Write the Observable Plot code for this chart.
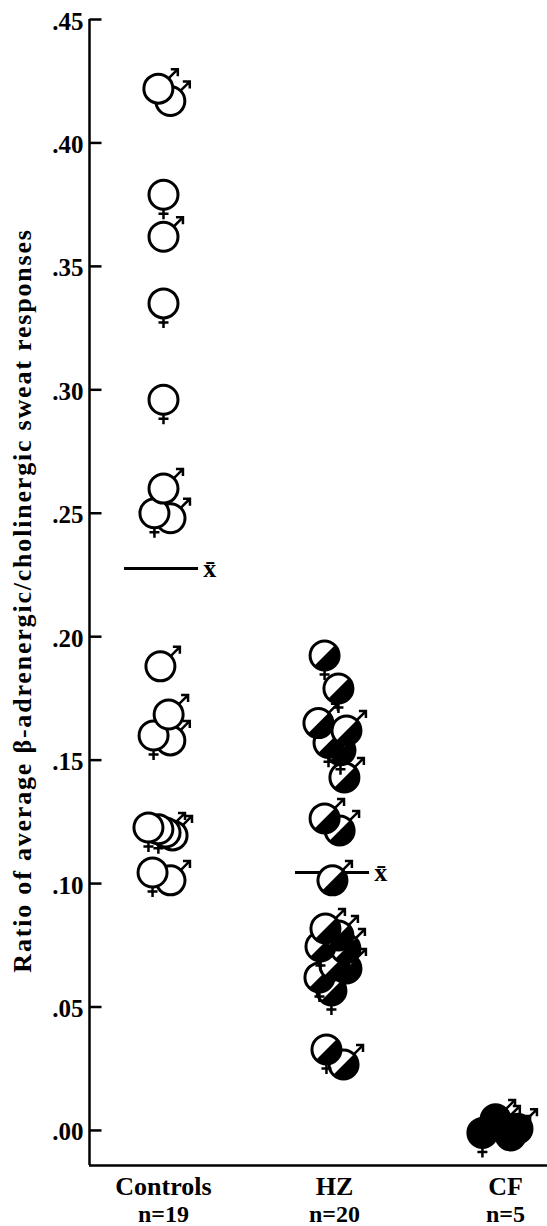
<!DOCTYPE html>
<html><head><meta charset="utf-8">
<script src="https://cdn.jsdelivr.net/npm/d3@7"></script>
<script src="https://cdn.jsdelivr.net/npm/@observablehq/plot@0.6"></script>
<style>body{margin:0;background:#fff}</style>
</head><body><div id="chart"></div>
<script>
// ---- data ----
const groups = ["Controls", "HZ", "CF"];
const groupN = ["n=19", "n=20", "n=5"];
const yTicks = [0, 0.05, 0.10, 0.15, 0.20, 0.25, 0.30, 0.35, 0.40, 0.45];
const yTitle = "Ratio of average \u03b2-adrenergic/cholinergic sweat responses";

const controlValues = [0.422, 0.417, 0.379, 0.362, 0.335, 0.296, 0.260, 0.250, 0.248, 0.188, 0.1685, 0.160, 0.158, 0.1227, 0.122, 0.1207, 0.1195, 0.1045, 0.1013];
const controlJitter = [-0.03, 0.04, 0, 0, 0, 0, 0, -0.053, 0.041, -0.018, 0.03, -0.058, 0.04, -0.088, -0.03, 0.012, 0.053, -0.064, 0.041];
const controlSex = ["M","M","F","M","F","F","M","F","M","M","M","F","M","F","F","M","M","F","M"];

const hzValues = [0.1924, 0.179, 0.165, 0.162, 0.157, 0.154, 0.143, 0.1264, 0.1215, 0.1013, 0.0818, 0.079, 0.0745, 0.0737, 0.0668, 0.0656, 0.062, 0.0567, 0.0328, 0.0267];
const hzJitter = [-0.058, 0.023, -0.094, 0.07, -0.035, 0.035, 0.058, -0.058, 0.03, -0.012, -0.053, 0.023, -0.082, 0.064, 0.0, 0.07, -0.088, -0.018, -0.047, 0.053];
const hzSex = ["F","F","M","M","F","F","M","M","M","M","M","M","F","M","M","M","F","F","F","M"];

const cfValues = [0.0045, 0.002, 0.0007, -0.001, -0.002];
const cfJitter = [-0.058, -0.03, 0.07, -0.135, 0.03];
const cfSex = ["M","M","M","F","M"];

const groupMeans = [0.2276, 0.1045];

// ---- layout constants ----
const FONT = "'Liberation Serif', 'Times New Roman', serif";
const xMin = -0.4327, xMax = 2.2456;
const yMin = -0.0142;
const R = 14.5;

// ---- symbols ----
const A = Math.SQRT1_2;
const maleSym = {draw(c, size) {
  const r = Math.sqrt(size / Math.PI);
  const t = (r + 13) * A;
  c.moveTo(r * A, -r * A); c.lineTo(t, -t);
  c.moveTo(t - 7, -t); c.lineTo(t, -t); c.lineTo(t, -t + 7);
}};
const femaleSym = {draw(c, size) {
  const r = Math.sqrt(size / Math.PI);
  c.moveTo(0, r); c.lineTo(0, r + 10);
  c.moveTo(-5, r + 4.5); c.lineTo(5, r + 4.5);
}};
const halfSym = {draw(c, size) {
  const r = Math.sqrt(size / Math.PI);
  c.moveTo(r * Math.cos(-Math.PI / 4), r * Math.sin(-Math.PI / 4));
  c.arc(0, 0, r, -Math.PI / 4, 3 * Math.PI / 4);
  c.closePath();
}};
const tickSym = {draw(c) { c.moveTo(0, 0); c.lineTo(12, 0); }};

// ---- points ----
function build(gi, vals, jit, sex) {
  return vals.map((v, i) => ({gi, x: gi + jit[i], y: v, sex: sex[i]}));
}
const points = [
  ...build(0, controlValues, controlJitter, controlSex),
  ...build(1, hzValues, hzJitter, hzSex),
  ...build(2, cfValues, cfJitter, cfSex)
].sort((a, b) => a.gi - b.gi || a.y - b.y);

const pointMarks = points.flatMap(p => {
  const ms = [Plot.dot([p], {x: "x", y: "y", r: R, fill: p.gi === 2 ? "black" : "white", stroke: "black", strokeWidth: 3})];
  if (p.gi === 1) ms.push(Plot.dot([p], {x: "x", y: "y", r: R, symbol: halfSym, fill: "black", stroke: "none"}));
  ms.push(Plot.dot([p], {x: "x", y: "y", r: R, symbol: p.sex === "M" ? maleSym : femaleSym, fill: "none", stroke: "black", strokeWidth: 2.5}));
  return ms;
});

const means = groupMeans.map((v, gi) => ({gi, v}));

const chart = Plot.plot({
  width: 547, height: 1226,
  marginLeft: 89, marginRight: 0, marginTop: 19, marginBottom: 61,
  x: {domain: [xMin, xMax], axis: null},
  y: {domain: [yMin, 0.45], axis: null},
  style: {fontFamily: FONT, background: "white", color: "black"},
  marks: [
    Plot.ruleX([xMin], {y1: yMin, y2: 0.45, stroke: "black", strokeWidth: 2.5}),
    Plot.ruleY([yMin], {x1: xMin, x2: xMax, stroke: "black", strokeWidth: 2.5}),
    Plot.dot(yTicks, {x: xMin, y: d => d, symbol: tickSym, r: 5, fill: "none", stroke: "black", strokeWidth: 2.5}),
    Plot.text(yTicks, {x: xMin, y: d => d, text: d => d.toFixed(2).slice(1), textAnchor: "end", dx: -6, dy: 2, fontSize: 25, fontWeight: "bold", fill: "black"}),
    Plot.text([yTitle], {frameAnchor: "left", textAnchor: "middle", dx: -67, dy: 8, rotate: -90, text: d => d, fontSize: 26, fontWeight: "bold", fill: "black"}),
    Plot.text(groups, {x: (d, i) => i, y: yMin, text: d => d, dy: 21, fontSize: 26, fontWeight: "bold", fill: "black"}),
    Plot.text(groupN, {x: (d, i) => i, y: yMin, text: d => d, dy: 49, fontSize: 24, fontWeight: "bold", fill: "black"}),
    Plot.ruleY(means, {y: "v", x1: d => d.gi - 0.228, x2: d => d.gi + 0.205, stroke: "black", strokeWidth: 3}),
    Plot.text(means, {x: d => d.gi + 0.232, y: "v", text: () => "x\u0304", textAnchor: "start", fontSize: 26, fontWeight: "bold", fill: "black"}),
    ...pointMarks
  ]
});
chart.querySelectorAll("text").forEach(t => {
  if (t.textContent === yTitle) t.style.letterSpacing = "1.8px";
});
document.getElementById("chart").appendChild(chart);
</script>
</body></html>
